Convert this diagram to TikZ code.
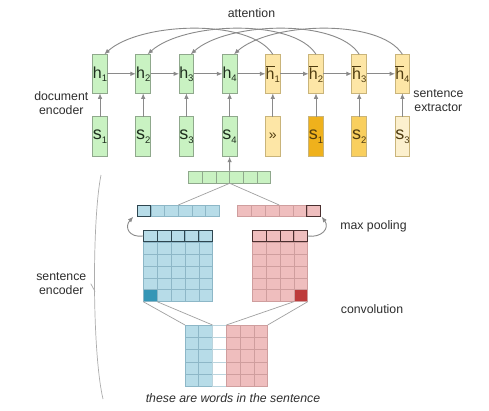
\documentclass[tikz,border=0pt]{standalone}
\usepackage{fontspec}
\setmainfont{Liberation Sans}
\usetikzlibrary{arrows.meta,calc}
\definecolor{gfill}{HTML}{C9F2C2}
\definecolor{gline}{HTML}{8FA88C}
\definecolor{yfill}{HTML}{FDE6A6}
\definecolor{yline}{HTML}{C9B47A}
\definecolor{ydark}{HTML}{EFB11C}
\definecolor{ymid}{HTML}{F9CF5E}
\definecolor{ypale}{HTML}{FCF0CE}
\definecolor{bfill}{HTML}{B7DCE8}
\definecolor{bline}{HTML}{8DB7C7}
\definecolor{bdarkc}{HTML}{3596B6}
\definecolor{bsel}{HTML}{2E4650}
\definecolor{pfill}{HTML}{EFBEBE}
\definecolor{pline}{HTML}{CF9E9E}
\definecolor{pdarkc}{HTML}{BD3B3B}
\definecolor{psel}{HTML}{4A2F2F}
\definecolor{arr}{HTML}{8A8A8A}
\definecolor{txt}{HTML}{2E2E2E}
\definecolor{gtxt}{HTML}{1E2E1E}
\definecolor{ytxt}{HTML}{4F3C10}
\newcommand\lsub[1]{\raisebox{-0.35ex}{\fontsize{9.5}{9.5}\selectfont #1}}
\newcommand\htext[2]{{\fontsize{16}{16}\selectfont #1\lsub{#2}}}
\newcommand\stext[2]{{\fontsize{18}{18}\selectfont #1\lsub{#2}}}
\begin{document}
\begin{tikzpicture}[x=1pt,y=-1pt,
  box/.style={draw, line width=0.8pt, minimum width=14.7pt, inner sep=0pt, outer sep=0pt},
  hbox/.style={box, minimum height=39pt},
  sbox/.style={box, minimum height=40pt},
  gbox/.style={fill=gfill, draw=gline, text=gtxt},
  ybox/.style={fill=yfill, draw=yline, text=ytxt},
  conn/.style={draw=arr, line width=0.9pt},
  tip/.style={-{Latex[length=5.5pt,width=4.5pt]}},
  thin line/.style={draw=arr!80, line width=0.7pt},
  area/.style={inner sep=0pt, outer sep=0pt, draw=none},
  gcell/.style={fill=gfill, draw=gline, line width=0.6pt},
  bcell/.style={fill=bfill, draw=bline, line width=0.6pt},
  pcell/.style={fill=pfill, draw=pline, line width=0.6pt},
  wcell/.style={fill=white, draw=bline!60, line width=0.6pt},
  bselc/.style={draw=bsel, line width=1pt},
  pselc/.style={draw=psel, line width=1pt},
  lab/.style={text=txt, font=\fontsize{12.3}{14}\selectfont, align=center}]
\useasboundingbox (0,0) rectangle (489,410);
\fill[white] (0,0) rectangle (489,410);

% document encoder
\node[hbox,gbox] (h1) at (100,73.8) {\htext{h}{1}};
\node[hbox,gbox] (h2) at (143.2,73.8) {\htext{h}{2}};
\node[hbox,gbox] (h3) at (186.4,73.8) {\htext{h}{3}};
\node[hbox,gbox] (h4) at (229.6,73.8) {\htext{h}{4}};
\node[sbox,gbox] (s1) at (100,136.7) {\stext{s}{1}};
\node[sbox,gbox] (s2) at (143.2,136.7) {\stext{s}{2}};
\node[sbox,gbox] (s3) at (186.4,136.7) {\stext{s}{3}};
\node[sbox,gbox] (s4) at (229.6,136.7) {\stext{s}{4}};
% sentence extractor
\node[hbox,ybox] (hb1) at (272.8,73.8) {\htext{$\overline{\mbox{h}}$}{1}};
\node[hbox,ybox] (hb2) at (316,73.8) {\htext{$\overline{\mbox{h}}$}{2}};
\node[hbox,ybox] (hb3) at (359.2,73.8) {\htext{$\overline{\mbox{h}}$}{3}};
\node[hbox,ybox] (hb4) at (402.4,73.8) {\htext{$\overline{\mbox{h}}$}{4}};
\node[sbox,ybox] (e1) at (272.8,136.7) {\fontsize{14}{14}\selectfont »};
\node[sbox,ybox,fill=ydark] (e2) at (316,136.7) {\stext{s}{1}};
\node[sbox,ybox,fill=ymid] (e3) at (359.2,136.7) {\stext{s}{2}};
\node[sbox,ybox,fill=ypale] (e4) at (402.4,136.7) {\stext{s}{3}};

% horizontal arrows
\foreach \a/\b in {h1/h2,h2/h3,h3/h4,h4/hb1,hb1/hb2,hb2/hb3,hb3/hb4}
  \draw[conn,tip] (\a.east) -- (\b.west);
% vertical arrows
\foreach \a/\b in {s1/h1,s2/h2,s3/h3,s4/h4,e1/hb1,e2/hb2,e3/hb3,e4/hb4}
  \draw[conn,tip] (\a.north) -- (\b.south);
% attention arcs
\foreach \i/\x in {1/100,2/143.2,3/186.4,4/229.6}
  \draw[conn,tip] (hb\i.north) .. controls ({\x+150},18) and ({\x+40},22) .. ([xshift=-3pt]h\i.north east);

% labels
\node[lab] (latt) at (251.5,13) {attention};
\node[lab] (ldoc) at (61.3,103.3) {document\\encoder};
\node[lab] (lext) at (438.4,101) {sentence\\extractor};
\node[lab] (lmax) at (373.5,226.7) {max pooling};
\node[lab] (lconv) at (372,309) {convolution};
\node[lab] (lsenc) at (61.3,283.7) {sentence\\encoder};
\node[lab, font=\fontsize{12.3}{14}\selectfont\itshape] (lwords) at (233,398.3) {these are words in the sentence};

% sentence vector (green row)
\foreach \c in {0,...,5} \draw[gcell] ({188.7+\c*13.67},171) rectangle ++(13.67,12.3);
\node[area, minimum width=82pt, minimum height=12.3pt] (pool) at (229.7,177.15) {};
\draw[conn,tip] (pool.north) -- (s4.south);

% pooled rows
\foreach \c in {0,...,5} \draw[bcell] ({137.3+\c*13.67},205) rectangle ++(13.67,11.7);
\foreach \c in {0,...,5} \draw[pcell] ({237.7+\c*13.83},205) rectangle ++(13.83,11.7);
\draw[bselc] (137.3,205) rectangle ++(13.67,11.7);
\draw[pselc] (306.85,205) rectangle ++(13.83,11.7);
\node[area, minimum width=82pt, minimum height=11.7pt] (brow) at (178.3,210.85) {};
\node[area, minimum width=83pt, minimum height=11.7pt] (prow) at (279.2,210.85) {};
\draw[thin line] (pool.south) -- (brow.north);
\draw[thin line] (pool.south) -- (prow.north);

% convolution matrices
\foreach \c in {0,...,4} \foreach \r in {0,...,5}
  \draw[bcell] ({143.3+\c*13.88},{230+\r*11.95}) rectangle ++(13.88,11.95);
\foreach \c in {0,...,3} \foreach \r in {0,...,5}
  \draw[pcell] ({252.3+\c*13.85},{230+\r*11.95}) rectangle ++(13.85,11.95);
\node[area, fill=bdarkc, draw=bline, line width=0.6pt, minimum width=13.88pt, minimum height=11.95pt] (bdark) at (150.24,295.73) {};
\node[area, fill=pdarkc, draw=pline, line width=0.6pt, minimum width=13.85pt, minimum height=11.95pt] (pdark) at (300.78,295.73) {};
\foreach \c in {0,...,4} \draw[bselc] ({143.3+\c*13.88},230) rectangle ++(13.88,11.95);
\foreach \c in {0,...,3} \draw[pselc] ({252.3+\c*13.85},230) rectangle ++(13.85,11.95);
\node[area, minimum width=69.4pt, minimum height=71.7pt] (bm) at (178,265.85) {};
\node[area, minimum width=55.4pt, minimum height=71.7pt] (pm) at (280,265.85) {};

% max pooling arrows
\draw[conn,tip] ([yshift=-6pt]bm.north west) .. controls (129,238) and (124,227) .. ([xshift=-4pt]brow.south west);
\draw[conn,tip] ([yshift=-6pt]pm.north east) .. controls (322,238) and (330,228) .. ([xshift=1pt]prow.south east);

% word matrix
\foreach \r in {0,...,4} {
  \foreach \c in {0,1} \draw[bcell] ({185+\c*13.78},{325+\r*12.33}) rectangle ++(13.78,12.33);
  \draw[wcell] ({185+2*13.78},{325+\r*12.33}) rectangle ++(13.78,12.33);
  \foreach \c in {3,4,5} \draw[pcell] ({185+\c*13.78},{325+\r*12.33}) rectangle ++(13.78,12.33);
}
\node[area, minimum width=82.68pt, minimum height=61.65pt] (wm) at (226.34,355.83) {};
\draw[thin line] (bdark.south west) -- (wm.north west);
\draw[thin line] (bdark.south east) -- ([xshift=27.56pt]wm.north west);
\draw[thin line] (pdark.south west) -- ([xshift=41.34pt]wm.north west);
\draw[thin line] (pdark.south east) -- (wm.north east);

% brace for sentence encoder
\draw[draw=arr!70, line width=0.7pt] (101,175) .. controls (92,220) and (92,352) .. (103,399);
\draw[draw=arr!70, line width=0.7pt] (lsenc.east) ++(1pt,0) coordinate (bt) -- (95,291.5);
\end{tikzpicture}
\end{document}
